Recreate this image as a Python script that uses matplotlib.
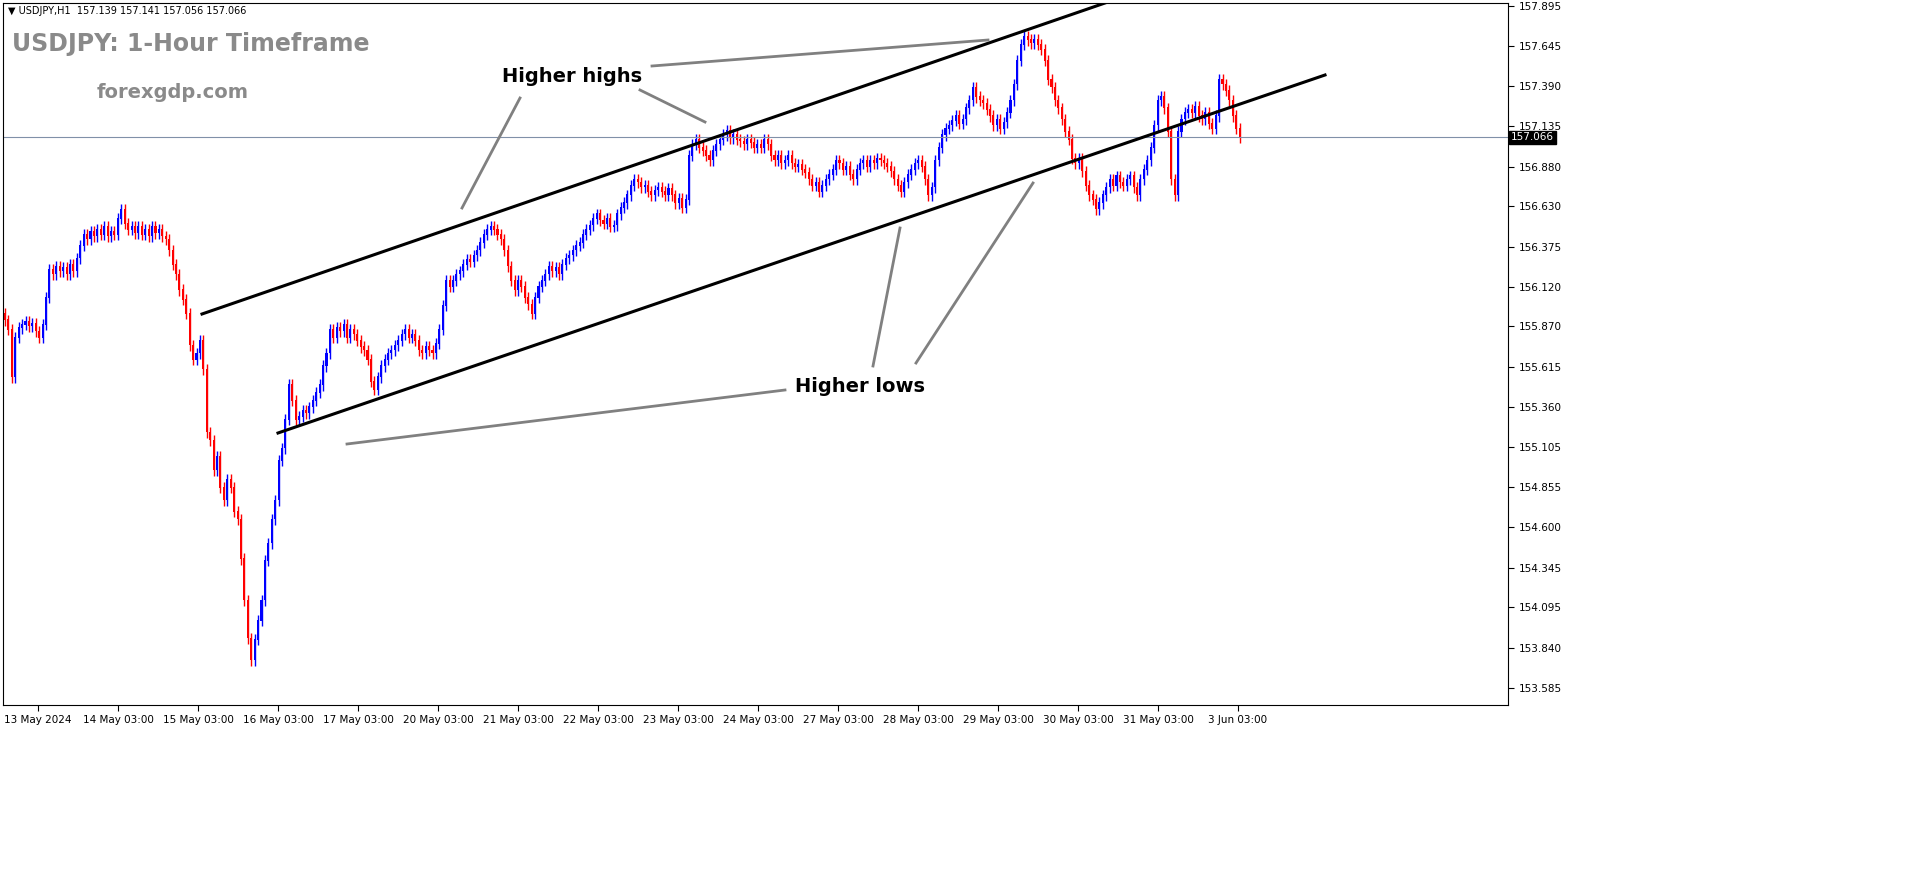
import matplotlib
matplotlib.use("Agg")
import matplotlib.pyplot as plt
import numpy as np

closes = [155.91,155.85,155.55,155.80,155.86,155.88,155.90,155.87,155.89,155.84,155.80,155.88,
156.05,156.23,156.20,156.25,156.22,156.24,156.20,156.26,156.22,
156.30,156.38,156.45,156.42,156.47,156.44,156.48,156.45,156.50,156.44,156.47,156.45,
156.55,156.61,156.52,156.48,156.50,156.46,
156.50,156.45,156.48,156.44,156.50,156.46,156.48,156.44,156.42,
156.35,156.26,156.20,156.10,156.04,155.95,
155.75,155.66,155.70,155.78,155.60,155.20,
155.15,154.96,155.05,154.85,154.77,154.90,154.85,154.70,154.65,
154.40,154.14,153.90,153.76,153.89,154.01,
154.14,154.39,154.50,154.65,154.77,155.02,155.10,155.28,
155.50,155.40,155.28,155.30,155.34,155.32,155.36,155.40,155.45,155.50,155.62,155.70,
155.85,155.80,155.86,155.84,155.88,155.80,155.85,155.82,155.78,155.74,155.72,155.66,
155.52,155.47,155.55,155.62,155.66,155.70,155.72,155.75,155.78,155.82,155.85,155.80,
155.82,155.78,155.72,155.70,155.74,155.72,155.70,155.76,155.85,
156.00,156.16,156.12,156.16,156.20,156.22,156.26,156.29,156.28,
156.32,156.35,156.40,156.45,156.48,156.50,156.48,156.45,156.42,
156.35,156.25,156.16,156.10,156.16,156.12,156.05,156.01,155.95,
156.05,156.12,156.16,156.20,156.25,156.22,156.24,156.20,156.26,156.30,156.32,156.35,
156.38,156.40,156.45,156.48,156.51,156.55,156.58,156.54,156.52,156.55,156.50,156.51,
156.58,156.62,156.65,156.70,156.76,156.80,156.78,156.75,156.76,156.72,156.70,156.73,
156.75,156.72,156.70,156.74,156.70,156.65,156.68,156.62,156.67,
156.95,157.02,157.05,157.00,156.98,156.95,156.92,156.98,157.02,
157.05,157.08,157.11,157.06,157.08,157.05,157.04,157.02,157.05,157.03,157.00,157.02,
157.00,157.05,157.02,156.95,156.92,156.95,156.90,156.92,156.95,156.90,156.88,156.89,
156.86,156.84,156.80,156.76,156.78,156.72,156.76,156.80,156.83,156.86,156.92,156.90,
156.86,156.88,156.83,156.80,156.86,156.90,156.92,156.88,156.92,156.90,156.93,156.92,
156.90,156.88,156.85,156.80,156.76,156.72,156.78,156.83,156.86,156.90,156.92,156.88,
156.80,156.70,156.75,156.92,157.00,157.08,157.12,157.14,157.17,157.20,157.15,157.18,
157.25,157.30,157.38,157.32,157.30,157.28,157.24,157.20,157.14,157.18,157.12,157.16,
157.22,157.30,157.40,157.55,157.65,157.70,157.68,157.66,157.68,
157.65,157.62,157.55,157.43,157.38,157.30,157.25,157.18,157.10,
157.05,156.93,156.90,156.93,156.85,156.76,156.70,156.67,156.61,
156.65,156.70,156.75,156.80,156.76,156.82,156.78,156.76,156.80,
156.82,156.75,156.70,156.80,156.86,156.92,157.00,157.14,157.30,
157.32,157.25,157.10,156.80,156.70,157.10,157.18,157.22,157.24,
157.22,157.26,157.20,157.18,157.22,157.15,157.12,157.20,157.43,
157.40,157.36,157.30,157.20,157.12,157.066]
first_open = 155.95
price_ticks = [157.895,157.645,157.390,157.135,156.880,156.630,156.375,156.120,155.870,155.615,
               155.360,155.105,154.855,154.600,154.345,154.095,153.840,153.585]
date_labels = ["13 May 2024","14 May 03:00","15 May 03:00","16 May 03:00","17 May 03:00",
               "20 May 03:00","21 May 03:00","22 May 03:00","23 May 03:00","24 May 03:00",
               "27 May 03:00","28 May 03:00","29 May 03:00","30 May 03:00","31 May 03:00","3 Jun 03:00"]
last_price = 157.066

W, H = 1916, 884
fig = plt.figure(figsize=(W/100, H/100), dpi=100)
L, R, T, B = 3, 1508, 3, 705
ax = fig.add_axes([L/W, 1-B/H, (R-L)/W, (B-T)/H])

n = len(closes)
step = 3.42
def px2x(px): return (px-5)/step
def py2p(py): return 157.895 - (py-6)*(4.31/682)

ax.set_xlim(px2x(L), px2x(R))
ax.set_ylim(py2p(B), py2p(T))

opens = [first_open] + closes[:-1]
idx = np.arange(n)
o = np.array(opens); c = np.array(closes)
hi = np.maximum(o, c) + 0.035
lo = np.minimum(o, c) - 0.035
cols = np.where(c >= o, "#0000ff", "#ff0000")
ax.vlines(idx, lo, hi, colors=cols, lw=1)
ax.bar(idx, np.abs(c-o)+0.004, bottom=np.minimum(o, c), width=0.6, color=cols, lw=0)

ax.axhline(last_price, color="#8090a8", lw=0.8)

# channel lines
for (x1,y1,x2,y2) in [(202,314,1105,3),(278,433,1325,75)]:
    ax.plot([px2x(x1),px2x(x2)],[py2p(y1),py2p(y2)], color="black", lw=2.2)
for (x1,y1,x2,y2) in [(652,66,988,40),(462,208,520,98),(640,90,705,122),
                      (347,444,785,390),(873,366,900,228),(916,363,1033,183)]:
    ax.plot([px2x(x1),px2x(x2)],[py2p(y1),py2p(y2)], color="#808080", lw=2)

ax.text(px2x(572), py2p(76), "Higher highs", fontsize=14, fontweight="bold", ha="center", va="center")
ax.text(px2x(860), py2p(386), "Higher lows", fontsize=14, fontweight="bold", ha="center", va="center")
fig.text(12/W, 1-44/H, "USDJPY: 1-Hour Timeframe", fontsize=17, fontweight="bold", color="#8a8a8a", va="center")
fig.text(97/W, 1-92/H, "forexgdp.com", fontsize=14, fontweight="bold", color="#8a8a8a", va="center")
fig.text(8/W, 1-11/H, "▼ USDJPY,H1  157.139 157.141 157.056 157.066", fontsize=7, va="center")

ax.yaxis.tick_right()
ax.set_yticks(price_ticks)
ax.set_yticklabels([f"{v:.3f}" for v in price_ticks], fontsize=7.5)
xt = [px2x(38 + 80*k) for k in range(len(date_labels))]
ax.set_xticks(xt)
ax.set_xticklabels(date_labels, fontsize=7.5)
ax.tick_params(length=4, width=0.8)
ax.text(1.002, last_price, f"{last_price:.3f}", transform=ax.get_yaxis_transform(),
        fontsize=7.5, color="white", va="center", ha="left",
        bbox=dict(boxstyle="square,pad=0.15", fc="black", ec="black"))
for s in ax.spines.values():
    s.set_linewidth(0.8)

fig.savefig("out.png", dpi=100)
